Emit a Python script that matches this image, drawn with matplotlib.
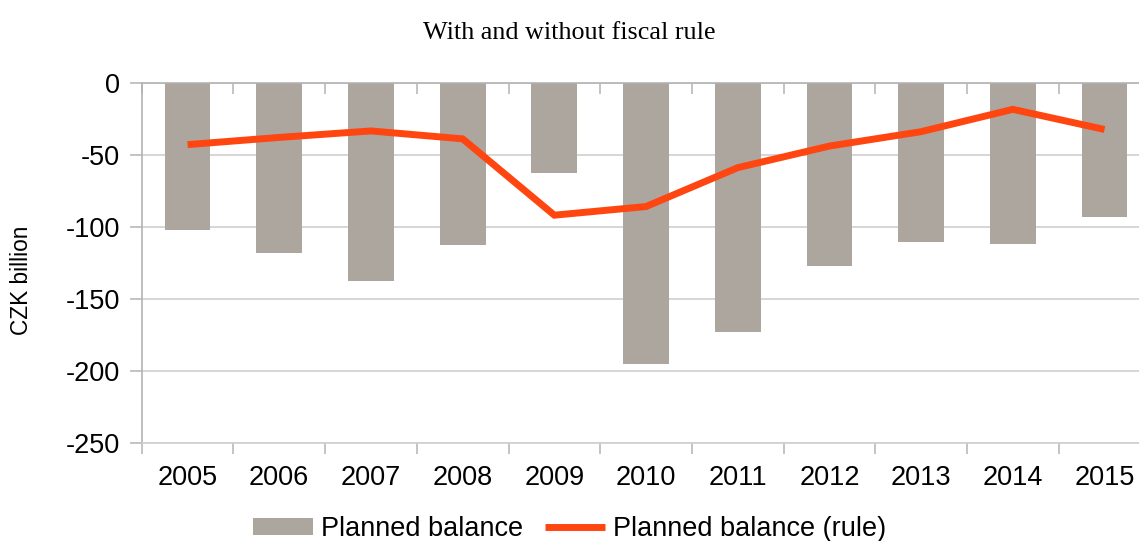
import matplotlib
matplotlib.use("Agg")
import matplotlib.pyplot as plt
import numpy as np
from matplotlib.ticker import FixedLocator

years = ["2005", "2006", "2007", "2008", "2009", "2010", "2011", "2012", "2013", "2014", "2015"]
planned_balance = [-102, -118, -137.5, -112.5, -62.5, -195, -173, -127, -110.5, -112, -93]
planned_balance_rule = [-43, -38, -33.5, -39, -92, -86, -59, -44, -34, -18.5, -32.5]

plt.rcParams['font.family'] = ['Liberation Sans', 'DejaVu Sans']

W, H = 1139, 541
fig = plt.figure(figsize=(W / 100, H / 100), dpi=100)
left, right = 141.7 / W, 1150.4 / W
top, bottom = 1 - 82.7 / H, 1 - 442.7 / H
ax = fig.add_axes([left, bottom, right - left, top - bottom])

x = np.arange(len(years))
bar_color = '#ada69e'
line_color = '#ff4611'
grid_color = '#cfcfcf'
axis_color = '#b3b3b3'

ax.bar(x, planned_balance, width=0.5, color=bar_color, label='Planned balance', zorder=2)
ax.plot(x, planned_balance_rule, color=line_color, lw=5.0, solid_joinstyle='miter',
        solid_capstyle='butt', label='Planned balance (rule)', zorder=3)

ax.set_xlim(-0.5, len(years) - 0.5)
ax.set_ylim(-250, 0)
ax.set_yticks(np.arange(-250, 1, 50))
ax.set_yticklabels([str(v) for v in np.arange(-250, 1, 50)])
ax.yaxis.grid(True, color=grid_color, lw=1.2, zorder=0)
ax.set_axisbelow(True)

ax.set_xticks(x)
ax.set_xticklabels(years)
ax.xaxis.set_minor_locator(FixedLocator(np.arange(len(years) + 1) - 0.5))
ax.tick_params(axis='x', which='major', length=0, pad=16, labelsize=19.5)
ax.tick_params(axis='x', which='minor', length=8, width=1.1, direction='out', color=axis_color)
ax.tick_params(axis='y', which='major', length=8.4, width=1.1, direction='out',
               color=axis_color, pad=7, labelsize=19.5)

ax.spines['right'].set_visible(False)
for s in ['left', 'bottom', 'top']:
    ax.spines[s].set_color(axis_color)
    ax.spines[s].set_linewidth(1.2)
ax.spines['bottom'].set_color(grid_color)

sec = ax.secondary_xaxis('top')
sec.set_xticks([])
sec.xaxis.set_minor_locator(FixedLocator(np.arange(len(years) + 1) - 0.5))
sec.tick_params(axis='x', which='minor', length=8, width=1.1, direction='in', color=axis_color)
sec.spines['top'].set_visible(False)

fig.text(21.5 / W, 1 - 280 / H, 'CZK billion', rotation=90, ha='center', va='center',
         fontsize=16.3)

fig.text(0.5, 1 - 39.3 / H, 'With and without fiscal rule', ha='center', va='baseline',
         fontsize=18.8, family=['Liberation Serif', 'DejaVu Serif'])

handles, labels = ax.get_legend_handles_labels()
order = [labels.index('Planned balance'), labels.index('Planned balance (rule)')]
fig.legend([handles[i] for i in order], [labels[i] for i in order], loc='center',
           bbox_to_anchor=(0.5, 1 - 529 / H), ncol=2,
           frameon=False, fontsize=19.5, handlelength=2.22, handleheight=0.55,
           handletextpad=0.3, columnspacing=0.8, borderaxespad=0, borderpad=0)

fig.savefig('out.png', dpi=100)
